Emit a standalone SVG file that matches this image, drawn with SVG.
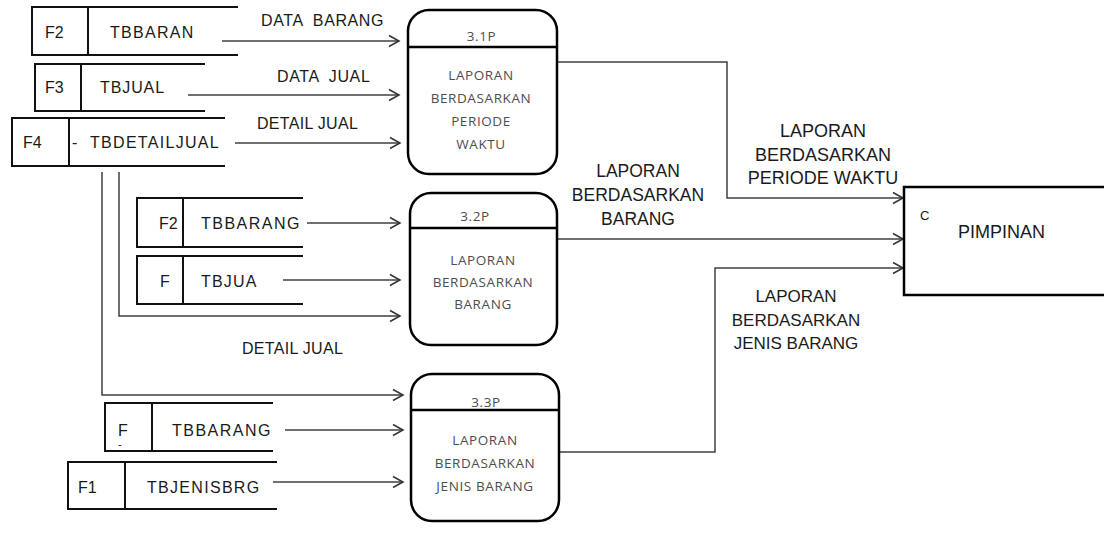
<svg xmlns="http://www.w3.org/2000/svg" width="1104" height="533" viewBox="0 0 1104 533">
<defs>
<marker id="arr" markerUnits="userSpaceOnUse" viewBox="-12 -7 14 14" refX="0" refY="0" markerWidth="14" markerHeight="14" orient="auto">
<path d="M-10,-5.5 L0,0 L-10,5.5" fill="none" stroke="#333" stroke-width="1.5"/>
</marker>
<style>
.store line,.store rect{stroke:#111;stroke-width:2;fill:none}
.st{font-family:"Liberation Sans",Arial,sans-serif;font-size:16px;fill:#1a1a1a;letter-spacing:1.3px}
.id{font-family:"Liberation Sans",Arial,sans-serif;font-size:16px;fill:#1a1a1a}
.proc rect{fill:#fff;stroke:#000;stroke-width:2.5}
.proc line{stroke:#000;stroke-width:2.5}
.pt{font-family:"Open Sans","Noto Sans",sans-serif;font-size:13.5px;fill:#4d4d4d;letter-spacing:0.6px;text-anchor:middle}
.conn path{fill:none;stroke:#404040;stroke-width:1.5;marker-end:url(#arr)}
.cl{font-family:"Liberation Sans",Arial,sans-serif;font-size:16px;fill:#1a1a1a;letter-spacing:0.6px}
.big{font-family:"Liberation Sans",Arial,sans-serif;font-size:18px;fill:#1a1a1a;text-anchor:middle}
</style>
</defs>
<rect width="1104" height="533" fill="#fff"/>

<g id="connectors" class="conn">
<path d="M222,41 H399"/>
<path d="M188,95 H399"/>
<path d="M235,143 H400"/>
<path d="M307,223 H400"/>
<path d="M283,280 H400"/>
<path d="M119,172 V316 H400"/>
<path d="M102,172 V395 H403"/>
<path d="M285,430 H403"/>
<path d="M273,482 H403"/>
<path d="M551,62 H727 V198 H903"/>
<path d="M547,239 H903"/>
<path d="M553,452 H715 V268 H903"/>
</g>

<g id="connector-labels">
<text class="cl" x="261" y="26" style="word-spacing:5px">DATA BARANG</text>
<text class="cl" x="277" y="82" style="word-spacing:5px">DATA JUAL</text>
<text class="cl" x="257" y="129" style="letter-spacing:0.3px">DETAIL JUAL</text>
<text class="cl" x="242" y="354" style="letter-spacing:0.3px">DETAIL JUAL</text>
<text class="big" x="823" y="137">LAPORAN</text>
<text class="big" x="823" y="160.5">BERDASARKAN</text>
<text class="big" x="823" y="184">PERIODE WAKTU</text>
<text class="big" x="638" y="177" style="font-size:17.5px">LAPORAN</text>
<text class="big" x="638" y="201" style="font-size:17.5px">BERDASARKAN</text>
<text class="big" x="638" y="225" style="font-size:17.5px">BARANG</text>
<text class="big" x="796" y="302" style="font-size:17px">LAPORAN</text>
<text class="big" x="796" y="325.5" style="font-size:17px">BERDASARKAN</text>
<text class="big" x="796" y="349" style="font-size:17px">JENIS BARANG</text>
</g>

<g id="store-f2-tbbaran" class="store">
<line x1="32" y1="7" x2="238" y2="7"/><line x1="32" y1="55" x2="238" y2="55"/>
<rect x="32" y="7" width="56" height="48"/>
<text class="id" x="45" y="37.5">F2</text>
<text class="st" x="110" y="37.5">TBBARAN</text>
</g>
<g id="store-f3-tbjual" class="store">
<line x1="35" y1="64" x2="205" y2="64"/><line x1="35" y1="111" x2="205" y2="111"/>
<rect x="35" y="64" width="46" height="47"/>
<text class="id" x="45" y="92.5">F3</text>
<text class="st" x="100" y="92.5" style="letter-spacing:0.9px">TBJUAL</text>
</g>
<g id="store-f4-tbdetailjual" class="store">
<line x1="12" y1="118" x2="225" y2="118"/><line x1="12" y1="166" x2="225" y2="166"/>
<rect x="12" y="118" width="57" height="48"/>
<text class="id" x="23" y="148">F4</text>
<text class="id" x="72" y="148">-</text>
<text class="st" x="90" y="148">TBDETAILJUAL</text>
</g>
<g id="store-f2-tbbarang" class="store">
<line x1="137" y1="198" x2="303" y2="198"/><line x1="137" y1="247" x2="303" y2="247"/>
<rect x="137" y="198" width="46" height="49"/>
<text class="id" x="159" y="229">F2</text>
<text class="st" x="201" y="229" style="letter-spacing:1.5px">TBBARANG</text>
</g>
<g id="store-f-tbjua" class="store">
<line x1="137" y1="256" x2="303" y2="256"/><line x1="137" y1="304" x2="303" y2="304"/>
<rect x="137" y="256" width="46" height="48"/>
<text class="id" x="160" y="287">F</text>
<text class="st" x="201" y="287" style="letter-spacing:1.2px">TBJUA</text>
</g>
<g id="store-f-tbbarang" class="store">
<line x1="105" y1="403" x2="273" y2="403"/><line x1="105" y1="451" x2="273" y2="451"/>
<rect x="105" y="403" width="47" height="48"/>
<text class="id" x="118" y="436">F</text>
<text class="id" x="118" y="448" style="font-size:11px">-</text>
<text class="st" x="172" y="436" style="letter-spacing:1.5px">TBBARANG</text>
</g>
<g id="store-f1-tbjenisbrg" class="store">
<line x1="68" y1="462" x2="277" y2="462"/><line x1="68" y1="509" x2="277" y2="509"/>
<rect x="68" y="462" width="57" height="47"/>
<text class="id" x="78" y="493">F1</text>
<text class="st" x="147" y="493">TBJENISBRG</text>
</g>

<g id="proc-3-1" class="proc">
<rect x="408" y="10" width="149" height="164" rx="21"/>
<line x1="408" y1="47" x2="557" y2="47"/>
<text class="pt" x="481.5" y="41">3.1P</text>
<text class="pt" x="481" y="80">LAPORAN</text>
<text class="pt" x="481" y="103">BERDASARKAN</text>
<text class="pt" x="481" y="126">PERIODE</text>
<text class="pt" x="481" y="149">WAKTU</text>
</g>
<g id="proc-3-2" class="proc">
<rect x="410" y="193" width="147" height="152" rx="21"/>
<line x1="410" y1="228" x2="557" y2="228"/>
<text class="pt" x="475" y="221">3.2P</text>
<text class="pt" x="483" y="265">LAPORAN</text>
<text class="pt" x="483" y="287">BERDASARKAN</text>
<text class="pt" x="483" y="309">BARANG</text>
</g>
<g id="proc-3-3" class="proc">
<rect x="411" y="374" width="148" height="147" rx="21"/>
<line x1="411" y1="410" x2="559" y2="410"/>
<text class="pt" x="486" y="406.5">3.3P</text>
<text class="pt" x="485" y="445">LAPORAN</text>
<text class="pt" x="485" y="468">BERDASARKAN</text>
<text class="pt" x="485" y="491">JENIS BARANG</text>
</g>

<g id="entity-pimpinan">
<rect x="904" y="187" width="220" height="108" fill="#fff" stroke="#000" stroke-width="2.5"/>
<text x="920" y="220" style="font-family:'Liberation Sans',Arial,sans-serif;font-size:13px;fill:#1a1a1a">C</text>
<text class="big" x="1001.5" y="238">PIMPINAN</text>
</g>
</svg>
